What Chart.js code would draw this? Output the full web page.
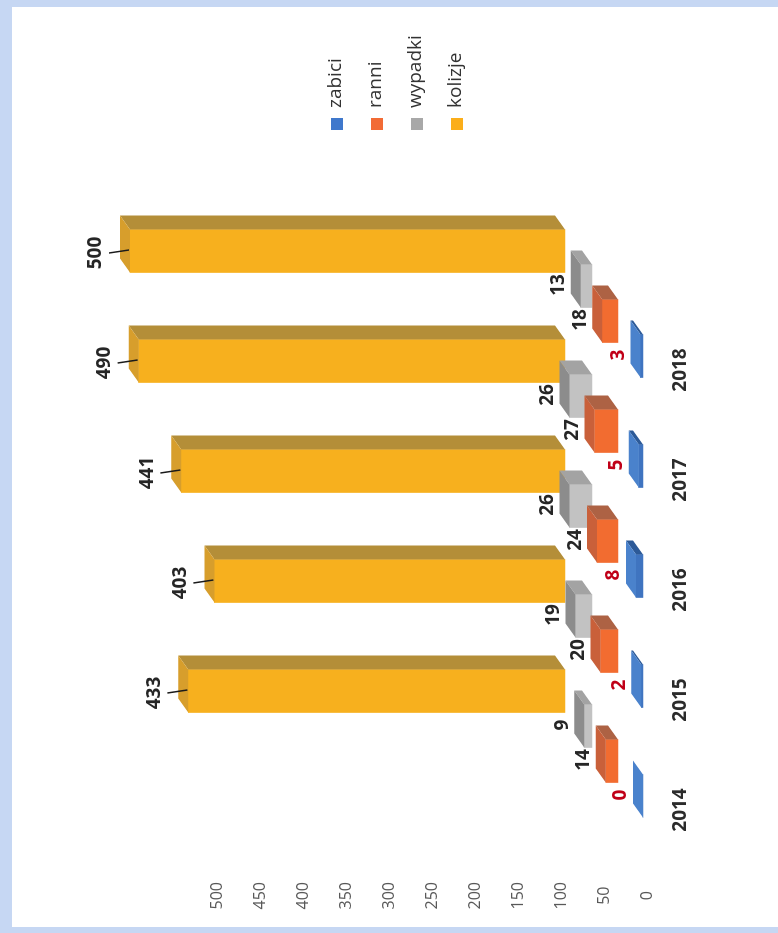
<!DOCTYPE html>
<html lang="pl">
<head>
<meta charset="UTF-8">
<title>Kolizje i wypadki 2014-2018</title>
<script src="https://cdn.jsdelivr.net/npm/chart.js"></script>
<style>
  html, body { margin: 0; padding: 0; }
  body {
    width: 778px;
    height: 933px;
    position: relative;
    overflow: hidden;
    background: #c6d7f3;
  }
  .paper {
    position: absolute;
    left: 12px; top: 7px; right: 0; bottom: 6px;
    background: #fff;
  }
  /* the sheet was photographed turned a quarter left */
  .rot {
    position: absolute;
    left: 0; top: 0;
    width: 933px; height: 778px;
    transform-origin: 0 0;
    transform: translateY(933px) rotate(-90deg);
  }
</style>
</head>
<body>
<div class="paper"></div>
<div class="rot"><canvas id="chart" width="933" height="778"></canvas></div>

<script>
const years = ['2014', '2015', '2016', '2017', '2018'];
const zabici = [0, 2, 8, 5, 3];
const ranni = [14, 20, 24, 27, 18];
const wypadki = [9, 19, 26, 26, 13];
const kolizje = [433, 403, 441, 490, 500];
const valueTicks = [0, 50, 100, 150, 200, 250, 300, 350, 400, 450, 500];
const seriesNames = ['zabici', 'ranni', 'wypadki', 'kolizje'];
const seriesValues = [zabici, ranni, wypadki, kolizje];

// colours: front, top and side face of each row
const FRONT = ['#3f74c0', '#f26c30', '#c2c2c2', '#f7b01e'];
const TOP = ['#4a82cc', '#c9603a', '#8c8c8c', '#d79e2c'];
const SIDE = ['#2c5a98', '#ad6244', '#a3a3a3', '#b48e38'];
const KEY = ['#3f78cc', '#f26b35', '#a8a8a8', '#fbae1a'];
const LABEL_COLOR = ['#c00018', '#262626', '#262626', '#262626'];

// fake perspective (canvas pixels, unrotated)
const AREA = { left: 51, top: 30, right: 933, bottom: 660 };
const YEAR_PX = 110;
const FIRST_BAR = 137;
const YEAR_LABEL = 123;
const ROW_STEP = 35;
const BASES = [643, 618, 592, 565];
const UNIT_PX = 0.87;
const AXIS_ZERO = 647, AXIS_UNIT_PX = 0.86;
const DX = 14, DY = -10;

function xLimits(first) {
  const min = -(first - AREA.left) / YEAR_PX;
  return { min: min, max: min + (AREA.right - AREA.left) / YEAR_PX, offset: false, bounds: 'data' };
}
function yLimits(zero, unitPx) {
  const min = -(AREA.bottom - zero) / unitPx;
  return { min: min, max: min + (AREA.bottom - AREA.top) / unitPx, offset: false, bounds: 'data', beginAtZero: false };
}

const scales = {
  xAxis: {
    type: 'linear', position: 'bottom', ...xLimits(YEAR_LABEL),
    grid: { display: false, drawTicks: false }, border: { display: false },
    afterBuildTicks: s => { s.ticks = years.map((y, i) => ({ value: i })); },
    afterFit: s => { s.height = 778 - AREA.bottom; },
    ticks: {
      padding: 9, color: '#2b2b2b', maxRotation: 0,
      font: { size: 19, weight: 'bold' },
      callback: v => years[v]
    }
  },
  yAxis: {
    type: 'linear', position: 'left', ...yLimits(AXIS_ZERO, AXIS_UNIT_PX),
    grid: { display: false, drawTicks: false }, border: { display: false },
    afterBuildTicks: s => { s.ticks = valueTicks.map(v => ({ value: v })); },
    afterFit: s => { s.width = AREA.left; },
    ticks: { padding: 0, crossAlign: 'center', color: '#595959', font: { size: 16 } }
  }
};
seriesNames.forEach((name, k) => {
  scales['x' + k] = { type: 'linear', display: false, ...xLimits(FIRST_BAR + ROW_STEP * k) };
  scales['y' + k] = { type: 'linear', display: false, ...yLimits(BASES[k], UNIT_PX) };
});

function poly(ctx, pts, color) {
  ctx.beginPath();
  ctx.moveTo(pts[0][0], pts[0][1]);
  for (let i = 1; i < pts.length; i++) ctx.lineTo(pts[i][0], pts[i][1]);
  ctx.closePath();
  ctx.fillStyle = color;
  ctx.fill();
}

// top and side faces of every box
const boxes3d = {
  id: 'boxes3d',
  afterDatasetDraw(chart, args) {
    const ctx = chart.ctx;
    const k = args.index;
    ctx.save();
    args.meta.data.forEach(bar => {
      const p = bar.getProps(['x', 'y', 'base', 'width'], true);
      const l = p.x - p.width / 2, r = p.x + p.width / 2;
      poly(ctx, [[r, p.y], [r, p.base], [r + DX, p.base + DY], [r + DX, p.y + DY]], SIDE[k]);
      poly(ctx, [[l, p.y], [r, p.y], [r + DX, p.y + DY], [l + DX, p.y + DY]], TOP[k]);
    });
    ctx.restore();
  }
};

const valueLabels = {
  id: 'valueLabels',
  afterDatasetsDraw(chart) {
    const ctx = chart.ctx;
    ctx.save();
    ctx.font = "bold 19px 'Open Sans', sans-serif";
    ctx.textAlign = 'center';
    ctx.textBaseline = 'middle';
    chart.data.datasets.forEach((ds, k) => {
      chart.getDatasetMeta(k).data.forEach((bar, i) => {
        const p = bar.getProps(['x', 'y'], true);
        ctx.fillStyle = LABEL_COLOR[k];
        if (k === 3) {
          ctx.fillText(ds.data[i].y, p.x - 2, p.y - 34);
          ctx.strokeStyle = '#1a1a1a';
          ctx.lineWidth = 1.5;
          ctx.beginPath();
          ctx.moveTo(p.x - 2, p.y - 21);
          ctx.lineTo(p.x + 1, p.y - 1);
          ctx.stroke();
        } else {
          ctx.fillText(ds.data[i].y, p.x + 1, p.y - 22);
        }
      });
    });
    ctx.restore();
  }
};

const sideLegend = {
  id: 'sideLegend',
  afterDraw(chart) {
    const ctx = chart.ctx;
    ctx.save();
    ctx.font = "19px 'Open Sans', sans-serif";
    ctx.textBaseline = 'middle';
    ctx.textAlign = 'left';
    chart.data.datasets.forEach((ds, k) => {
      const v = 337 + 40 * k;
      ctx.fillStyle = KEY[k];
      ctx.fillRect(803, v - 6, 12, 12);
      ctx.fillStyle = '#333';
      ctx.fillText(ds.label, 825, v - 1);
    });
    ctx.restore();
  }
};

Chart.defaults.font.family = "'Open Sans', sans-serif";

new Chart(document.getElementById('chart'), {
  type: 'bar',
  data: {
    datasets: seriesNames.map((name, k) => ({
      label: name,
      data: seriesValues[k].map((v, i) => ({ x: i, y: v })),
      xAxisID: 'x' + k,
      yAxisID: 'y' + k,
      backgroundColor: FRONT[k],
      borderWidth: 0,
      barThickness: 43,
      grouped: false,
      clip: false
    }))
  },
  options: {
    responsive: false,
    animation: false,
    layout: { padding: { top: 30 } },
    scales: scales,
    plugins: {
      legend: { display: false },
      tooltip: { enabled: false }
    }
  },
  plugins: [boxes3d, valueLabels, sideLegend]
});
</script>
</body>
</html>
